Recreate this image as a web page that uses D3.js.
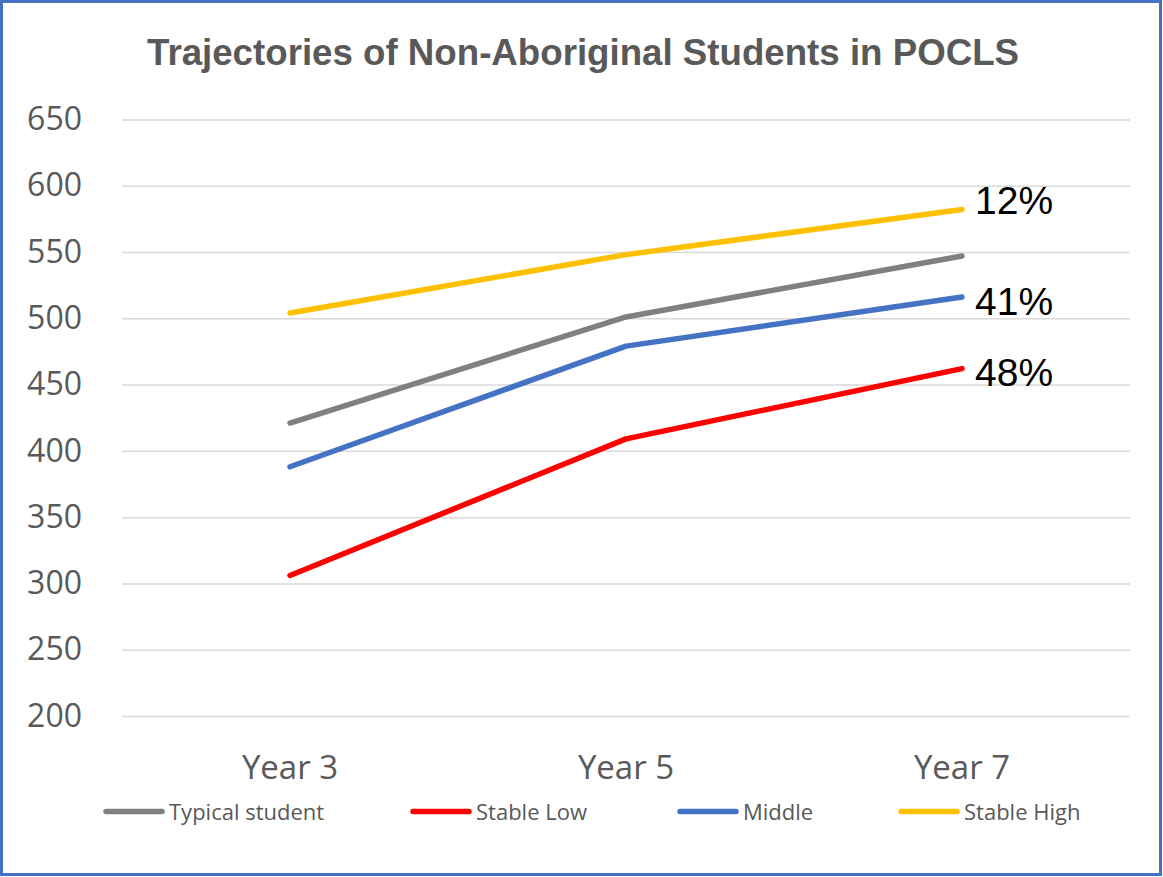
<!DOCTYPE html>
<html>
<head>
<meta charset="utf-8">
<script src="https://cdn.jsdelivr.net/npm/d3@7"></script>
<style>
  body { margin: 0; background: #fff; }
  svg { display: block; }
</style>
</head>
<body>
<div id="chart"></div>
<script>
// data
var years = ["Year 3", "Year 5", "Year 7"];
var seriesNames = ["Typical student", "Stable Low", "Middle", "Stable High"];
var typical = [421, 501, 547];
var stableLow = [306, 409, 462];
var middle = [388, 479, 516];
var stableHigh = [504, 548, 582];
var yTicks = [200, 250, 300, 350, 400, 450, 500, 550, 600, 650];
var shares = ["12%", "41%", "48%"];      // labels at end of Stable High, Middle, Stable Low

var colors = ["#808080", "#ff0000", "#4472c4", "#ffc000"];
var allSeries = [typical, stableLow, middle, stableHigh];

var W = 1163, H = 877;
var margin = {top: 119.4, right: 33, bottom: 161, left: 122};
var width = W - margin.left - margin.right,
    height = H - margin.top - margin.bottom;

var svg = d3.select("#chart").append("svg")
    .attr("width", W)
    .attr("height", H);

// outer border
svg.append("rect")
  .attr("x", 1.5).attr("y", 1.5)
  .attr("width", W - 4).attr("height", H - 4)
  .attr("fill", "#fff")
  .attr("stroke", "#4472c4")
  .attr("stroke-width", 3);

svg.append("text")
  .attr("x", 583).attr("y", 65)
  .attr("text-anchor", "middle")
  .attr("font-family", "Liberation Sans, Arial, sans-serif")
  .attr("font-weight", "bold")
  .attr("font-size", 37)
  .attr("fill", "#595959")
  .attr("textLength", 872)
  .attr("lengthAdjust", "spacingAndGlyphs")
  .text("Trajectories of Non-Aboriginal Students in POCLS");

var g = svg.append("g")
  .attr("transform", "translate(" + margin.left + "," + margin.top + ")");

var x = d3.scaleBand().domain(years).range([0, width]);
var y = d3.scaleLinear().domain([200, 650]).range([height, 0]);

// gridlines + y labels
var yAxis = g.append("g")
  .call(d3.axisLeft(y).tickValues(yTicks).tickSize(-width).tickPadding(40));
yAxis.select(".domain").remove();
yAxis.selectAll(".tick line").attr("stroke", "#d9d9d9").attr("stroke-width", 1.5);
yAxis.selectAll(".tick text")
  .attr("font-family", "Open Sans, sans-serif")
  .attr("font-size", 32)
  .attr("fill", "#595959");

var xAxis = g.append("g")
  .attr("transform", "translate(0," + height + ")")
  .call(d3.axisBottom(x).tickSize(0).tickPadding(40));
xAxis.select(".domain").remove();
xAxis.selectAll(".tick text")
  .attr("font-family", "Open Sans, sans-serif")
  .attr("font-size", 33)
  .attr("fill", "#595959");

var line = d3.line()
  .x(function(d, i) { return x(years[i]) + x.bandwidth() / 2; })
  .y(function(d) { return y(d); });

g.selectAll(".series")
  .data(allSeries)
  .enter()
  .append("path")
  .attr("class", "series")
  .attr("d", line)
  .attr("fill", "none")
  .attr("stroke", function(d, i) { return colors[i]; })
  .attr("stroke-width", 5.5)
  .attr("stroke-linecap", "round")
  .attr("stroke-linejoin", "round");

// share labels next to the Year 7 ends
var labelSeries = [stableHigh, middle, stableLow];
var labelDy = [4, 18, 17];
g.selectAll(".share")
  .data(shares)
  .enter()
  .append("text")
  .attr("class", "share")
  .attr("x", x("Year 7") + x.bandwidth() / 2 + 13)
  .attr("y", function(d, i) { return y(labelSeries[i][2]) + labelDy[i]; })
  .attr("font-family", "Liberation Sans, Arial, sans-serif")
  .attr("font-size", 39)
  .attr("fill", "#000")
  .text(function(d) { return d; });

// legend
var legendX = [104, 411, 678, 899];
var lg = svg.selectAll(".legend")
  .data(seriesNames)
  .enter()
  .append("g")
  .attr("class", "legend")
  .attr("transform", function(d, i) { return "translate(" + legendX[i] + ",811.5)"; });
lg.append("line")
  .attr("x1", 2).attr("x2", 58)
  .attr("stroke", function(d, i) { return colors[i]; })
  .attr("stroke-width", 5.5)
  .attr("stroke-linecap", "round");
lg.append("text")
  .attr("x", 65).attr("y", 8)
  .attr("font-family", "Open Sans, sans-serif")
  .attr("font-size", 22)
  .attr("fill", "#595959")
  .text(function(d) { return d; });
</script>
</body>
</html>
